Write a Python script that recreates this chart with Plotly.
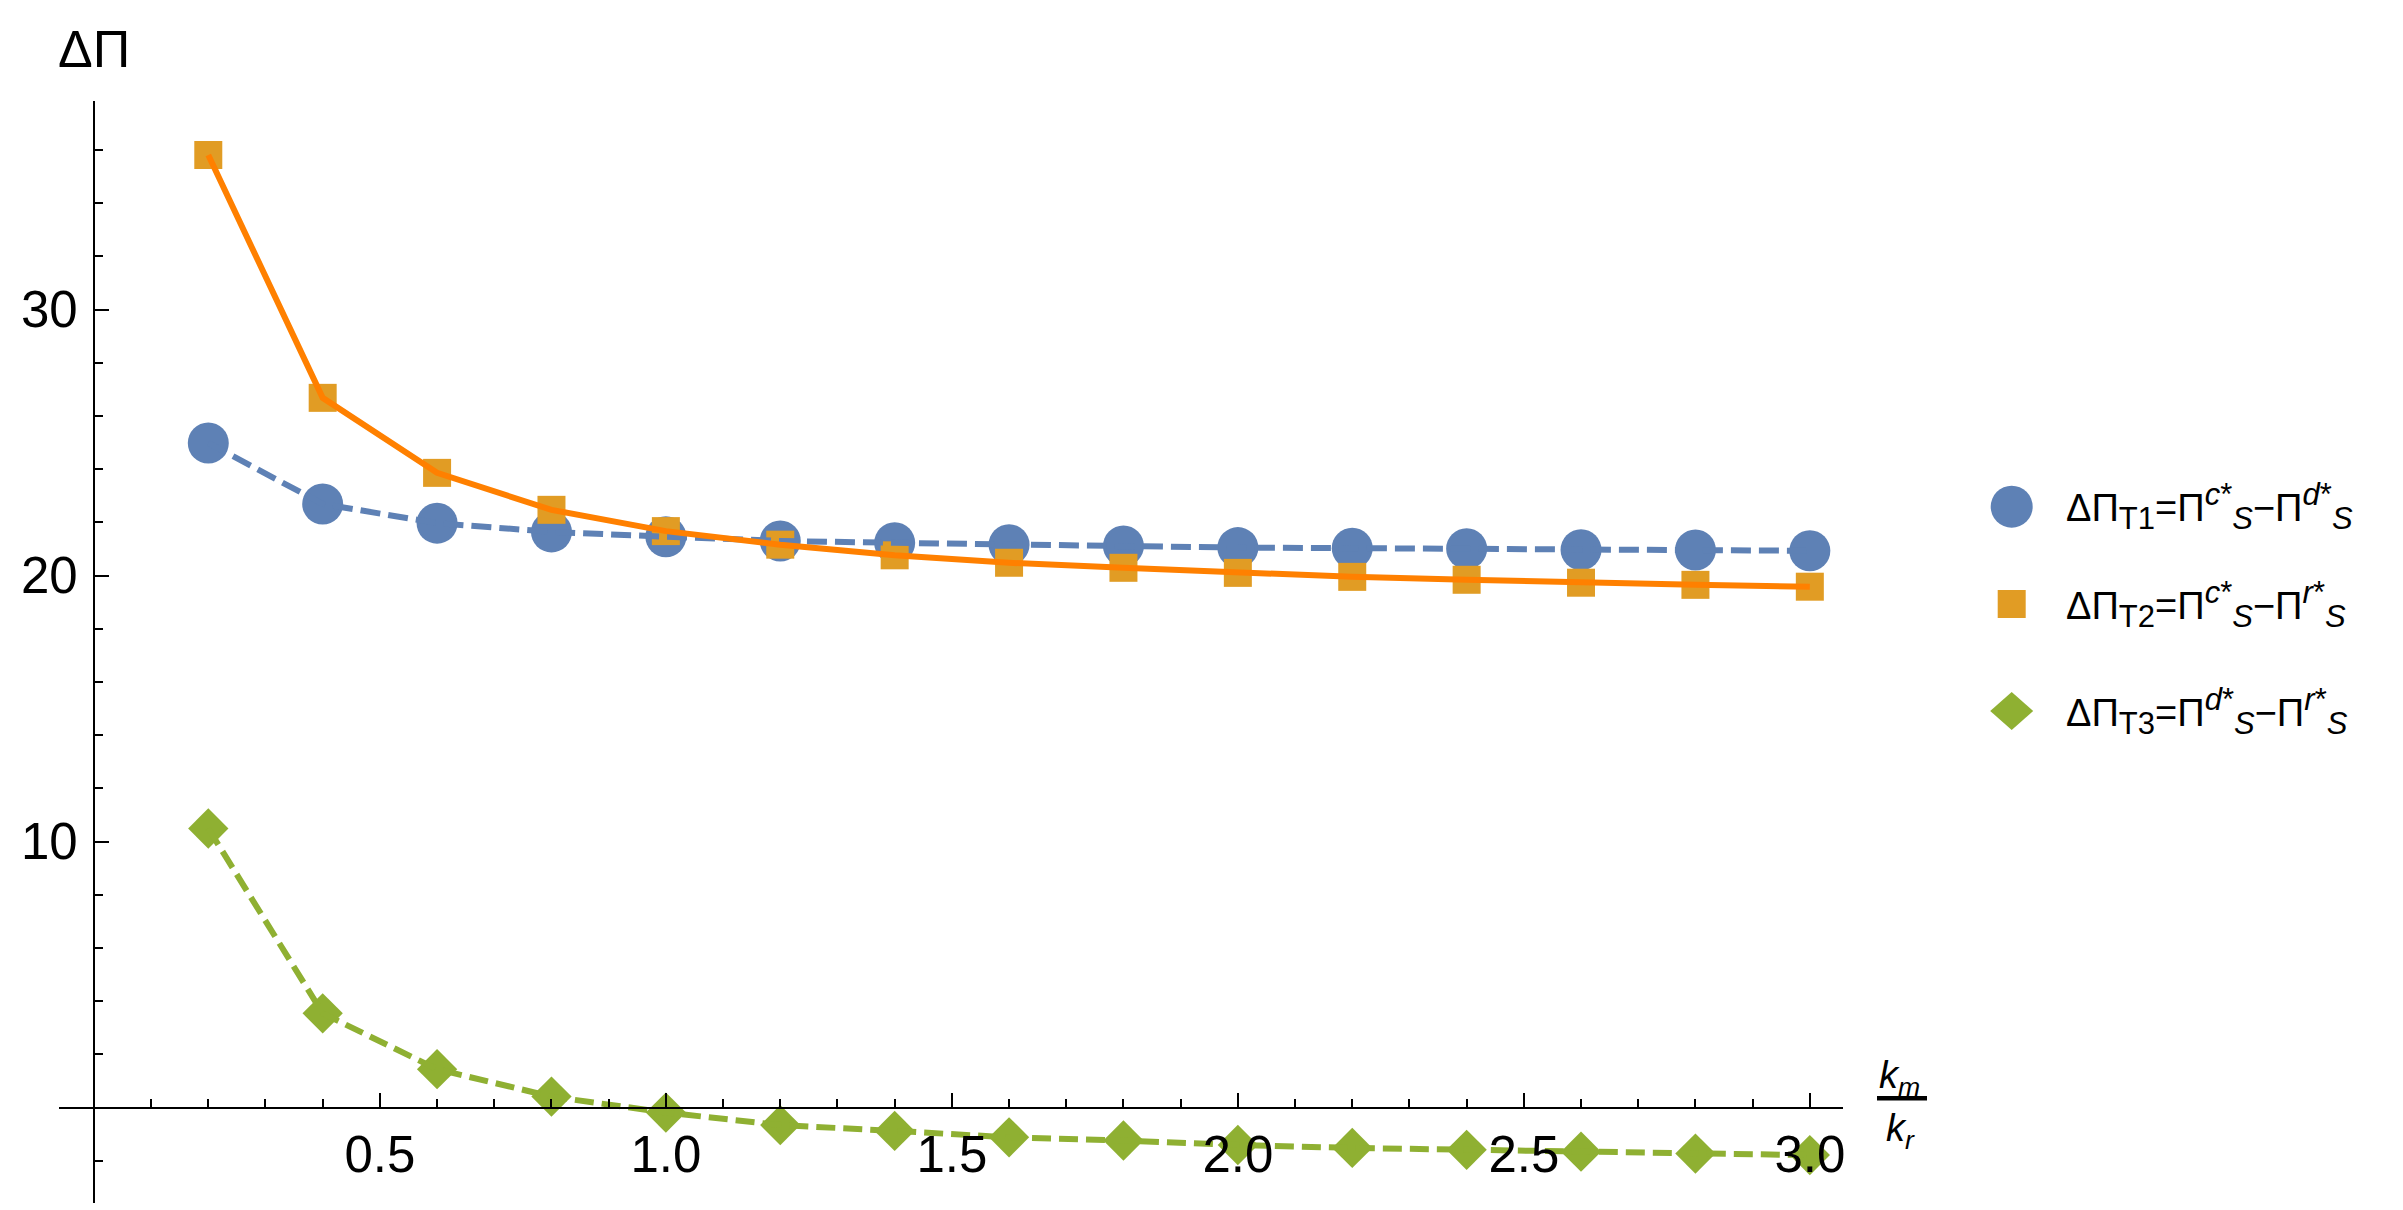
import plotly.graph_objects as go

# ---------------- data ----------------
ratio = [0.2, 0.4, 0.6, 0.8, 1.0, 1.2, 1.4, 1.6, 1.8, 2.0, 2.2, 2.4, 2.6, 2.8, 3.0]
dpi_t1 = [24.98, 22.69, 21.97, 21.64, 21.46, 21.30, 21.23, 21.16, 21.11, 21.05, 21.03, 21.01, 20.97, 20.96, 20.93]
dpi_t2 = [35.81, 26.68, 23.86, 22.47, 21.67, 21.16, 20.76, 20.48, 20.29, 20.10, 19.95, 19.84, 19.73, 19.65, 19.58]
dpi_t3 = [10.49, 3.54, 1.44, 0.41, -0.19, -0.66, -0.88, -1.12, -1.24, -1.41, -1.52, -1.59, -1.66, -1.73, -1.79]

x_tick_vals = [0.5, 1.0, 1.5, 2.0, 2.5, 3.0]
x_tick_text = ["0.5", "1.0", "1.5", "2.0", "2.5", "3.0"]
y_tick_vals = [10, 20, 30]
y_tick_text = ["10", "20", "30"]

SUB = "<span style='font-size:31px'>{}</span>"
legend_labels = [
    "ΔΠ<sub>" + SUB.format("T1") + "</sub>=Π<sup>" + SUB.format("<i>c</i>*") + "</sup><sub>" + SUB.format("<i>S</i>")
    + "</sub>−Π<sup>" + SUB.format("<i>d</i>*") + "</sup><sub>" + SUB.format("<i>S</i>") + "</sub>",
    "ΔΠ<sub>" + SUB.format("T2") + "</sub>=Π<sup>" + SUB.format("<i>c</i>*") + "</sup><sub>" + SUB.format("<i>S</i>")
    + "</sub>−Π<sup>" + SUB.format("<i>r</i>*") + "</sup><sub>" + SUB.format("<i>S</i>") + "</sub>",
    "ΔΠ<sub>" + SUB.format("T3") + "</sub>=Π<sup>" + SUB.format("<i>d</i>*") + "</sup><sub>" + SUB.format("<i>S</i>")
    + "</sub>−Π<sup>" + SUB.format("<i>r</i>*") + "</sup><sub>" + SUB.format("<i>S</i>") + "</sub>",
]

# ---------------- style ----------------
BLUE = "#5E81B5"
ORANGE_M = "#E19C24"
ORANGE_L = "#FF8000"
GREEN = "#8FB032"
FONT = "Liberation Sans"

X_RANGE = [-0.061, 3.058]
Y_RANGE = [-3.59, 37.84]
x_axis_pos = (0 - Y_RANGE[0]) / (Y_RANGE[1] - Y_RANGE[0])
y_axis_pos = (0 - X_RANGE[0]) / (X_RANGE[1] - X_RANGE[0])

fig = go.Figure()

# markers first
fig.add_trace(go.Scatter(x=ratio, y=dpi_t1, mode="markers",
                         marker=dict(symbol="circle", size=41, color=BLUE),
                         showlegend=False, cliponaxis=False, hoverinfo="skip"))
fig.add_trace(go.Scatter(x=ratio, y=dpi_t2, mode="markers",
                         marker=dict(symbol="square", size=28, color=ORANGE_M),
                         showlegend=False, cliponaxis=False, hoverinfo="skip"))
fig.add_trace(go.Scatter(x=ratio, y=dpi_t3, mode="markers",
                         marker=dict(symbol="diamond", size=31, color=GREEN),
                         showlegend=False, cliponaxis=False, hoverinfo="skip"))
# lines on top
fig.add_trace(go.Scatter(x=ratio, y=dpi_t3, mode="lines",
                         line=dict(color=GREEN, width=6, dash="19px,8px"),
                         showlegend=False, cliponaxis=False, hoverinfo="skip"))
fig.add_trace(go.Scatter(x=ratio, y=dpi_t1, mode="lines",
                         line=dict(color=BLUE, width=6, dash="20px,8px"),
                         showlegend=False, cliponaxis=False, hoverinfo="skip"))
fig.add_trace(go.Scatter(x=ratio, y=dpi_t2, mode="lines",
                         line=dict(color=ORANGE_L, width=6),
                         showlegend=False, cliponaxis=False, hoverinfo="skip"))

axis_common = dict(showline=True, linecolor="black", linewidth=2,
                   ticks="inside", ticklen=14, tickwidth=2, tickcolor="black",
                   showgrid=False, zeroline=False, anchor="free",
                   tickfont=dict(family=FONT, size=51, color="black"))

# page has an 8px body margin: the figure is offset by (8, 8)
fig.update_layout(
    width=2395, height=1202,
    margin=dict(l=51, r=560, t=93, b=7, pad=0),
    plot_bgcolor="white", paper_bgcolor="white",
    showlegend=False,
    font=dict(family=FONT, color="black"),
    xaxis=dict(range=X_RANGE, position=x_axis_pos, tickmode="array",
               tickvals=x_tick_vals, ticktext=x_tick_text, ticklabelstandoff=2,
               minor=dict(dtick=0.1, tick0=0, ticks="inside", ticklen=8,
                          tickwidth=1.5, tickcolor="black", showgrid=False),
               **axis_common),
    yaxis=dict(range=Y_RANGE, position=y_axis_pos, side="left", tickmode="array",
               tickvals=y_tick_vals, ticktext=y_tick_text, ticklabelstandoff=5,
               minor=dict(dtick=2, tick0=0, ticks="inside", ticklen=8,
                          tickwidth=1.5, tickcolor="black", showgrid=False),
               **axis_common),
)

# page-pixel -> paper conversion (plot area spans x 59..1843, y 101..1203 on the page)
PL, PR, PT, PB = 59, 1843, 101, 1203


def px2paper(px, py):
    return (px - PL) / (PR - PL), (PB - py) / (PB - PT)


annotations = []
# y title
_, ty = px2paper(94, 49)
annotations.append(dict(text="ΔΠ", x=0, xref="x", y=ty, yref="paper",
                        showarrow=False, xanchor="center", yanchor="middle",
                        font=dict(family=FONT, size=52, color="black")))
# x label (fraction)
nx, ny = px2paper(1899, 1078)
annotations.append(dict(text="<i>k</i><sub><i>m</i></sub>", x=nx, y=ny, xref="paper", yref="paper",
                        showarrow=False, xanchor="center", yanchor="middle",
                        font=dict(family=FONT, size=38, color="black")))
dx, dy = px2paper(1900, 1131)
annotations.append(dict(text="<i>k</i><sub><i>r</i></sub>", x=dx, y=dy, xref="paper", yref="paper",
                        showarrow=False, xanchor="center", yanchor="middle",
                        font=dict(family=FONT, size=38, color="black")))

shapes = []
b0x, by = px2paper(1877, 1098.3)
b1x, _ = px2paper(1927, 1098.3)
shapes.append(dict(type="line", xref="paper", yref="paper", x0=b0x, x1=b1x, y0=by, y1=by,
                   line=dict(color="black", width=4.5)))

# legend
leg_mx, _ = px2paper(2011.7, 0)
leg_tx, _ = px2paper(2064, 0)
leg_rows = [506.7, 604, 711]
leg_colors = [BLUE, ORANGE_M, GREEN]
for i, (row, col, lab) in enumerate(zip(leg_rows, leg_colors, legend_labels)):
    _, ry = px2paper(0, row)
    if i == 0:
        shapes.append(dict(type="circle", xref="paper", yref="paper", xsizemode="pixel", ysizemode="pixel",
                           xanchor=leg_mx, yanchor=ry, x0=-21, x1=21, y0=-21, y1=21,
                           fillcolor=col, line=dict(width=0)))
    elif i == 1:
        shapes.append(dict(type="rect", xref="paper", yref="paper", xsizemode="pixel", ysizemode="pixel",
                           xanchor=leg_mx, yanchor=ry, x0=-14, x1=14, y0=-14, y1=14,
                           fillcolor=col, line=dict(width=0)))
    else:
        shapes.append(dict(type="path", xref="paper", yref="paper", xsizemode="pixel", ysizemode="pixel",
                           xanchor=leg_mx, yanchor=ry, path="M -21.5 0 L 0 19 L 21.5 0 L 0 -19 Z",
                           fillcolor=col, line=dict(width=0)))
    annotations.append(dict(text=lab, x=leg_tx, y=ry, xref="paper", yref="paper",
                            showarrow=False, xanchor="left", yanchor="middle",
                            font=dict(family=FONT, size=38, color="black")))

fig.update_layout(annotations=annotations, shapes=shapes)

fig.write_html("out.html")
